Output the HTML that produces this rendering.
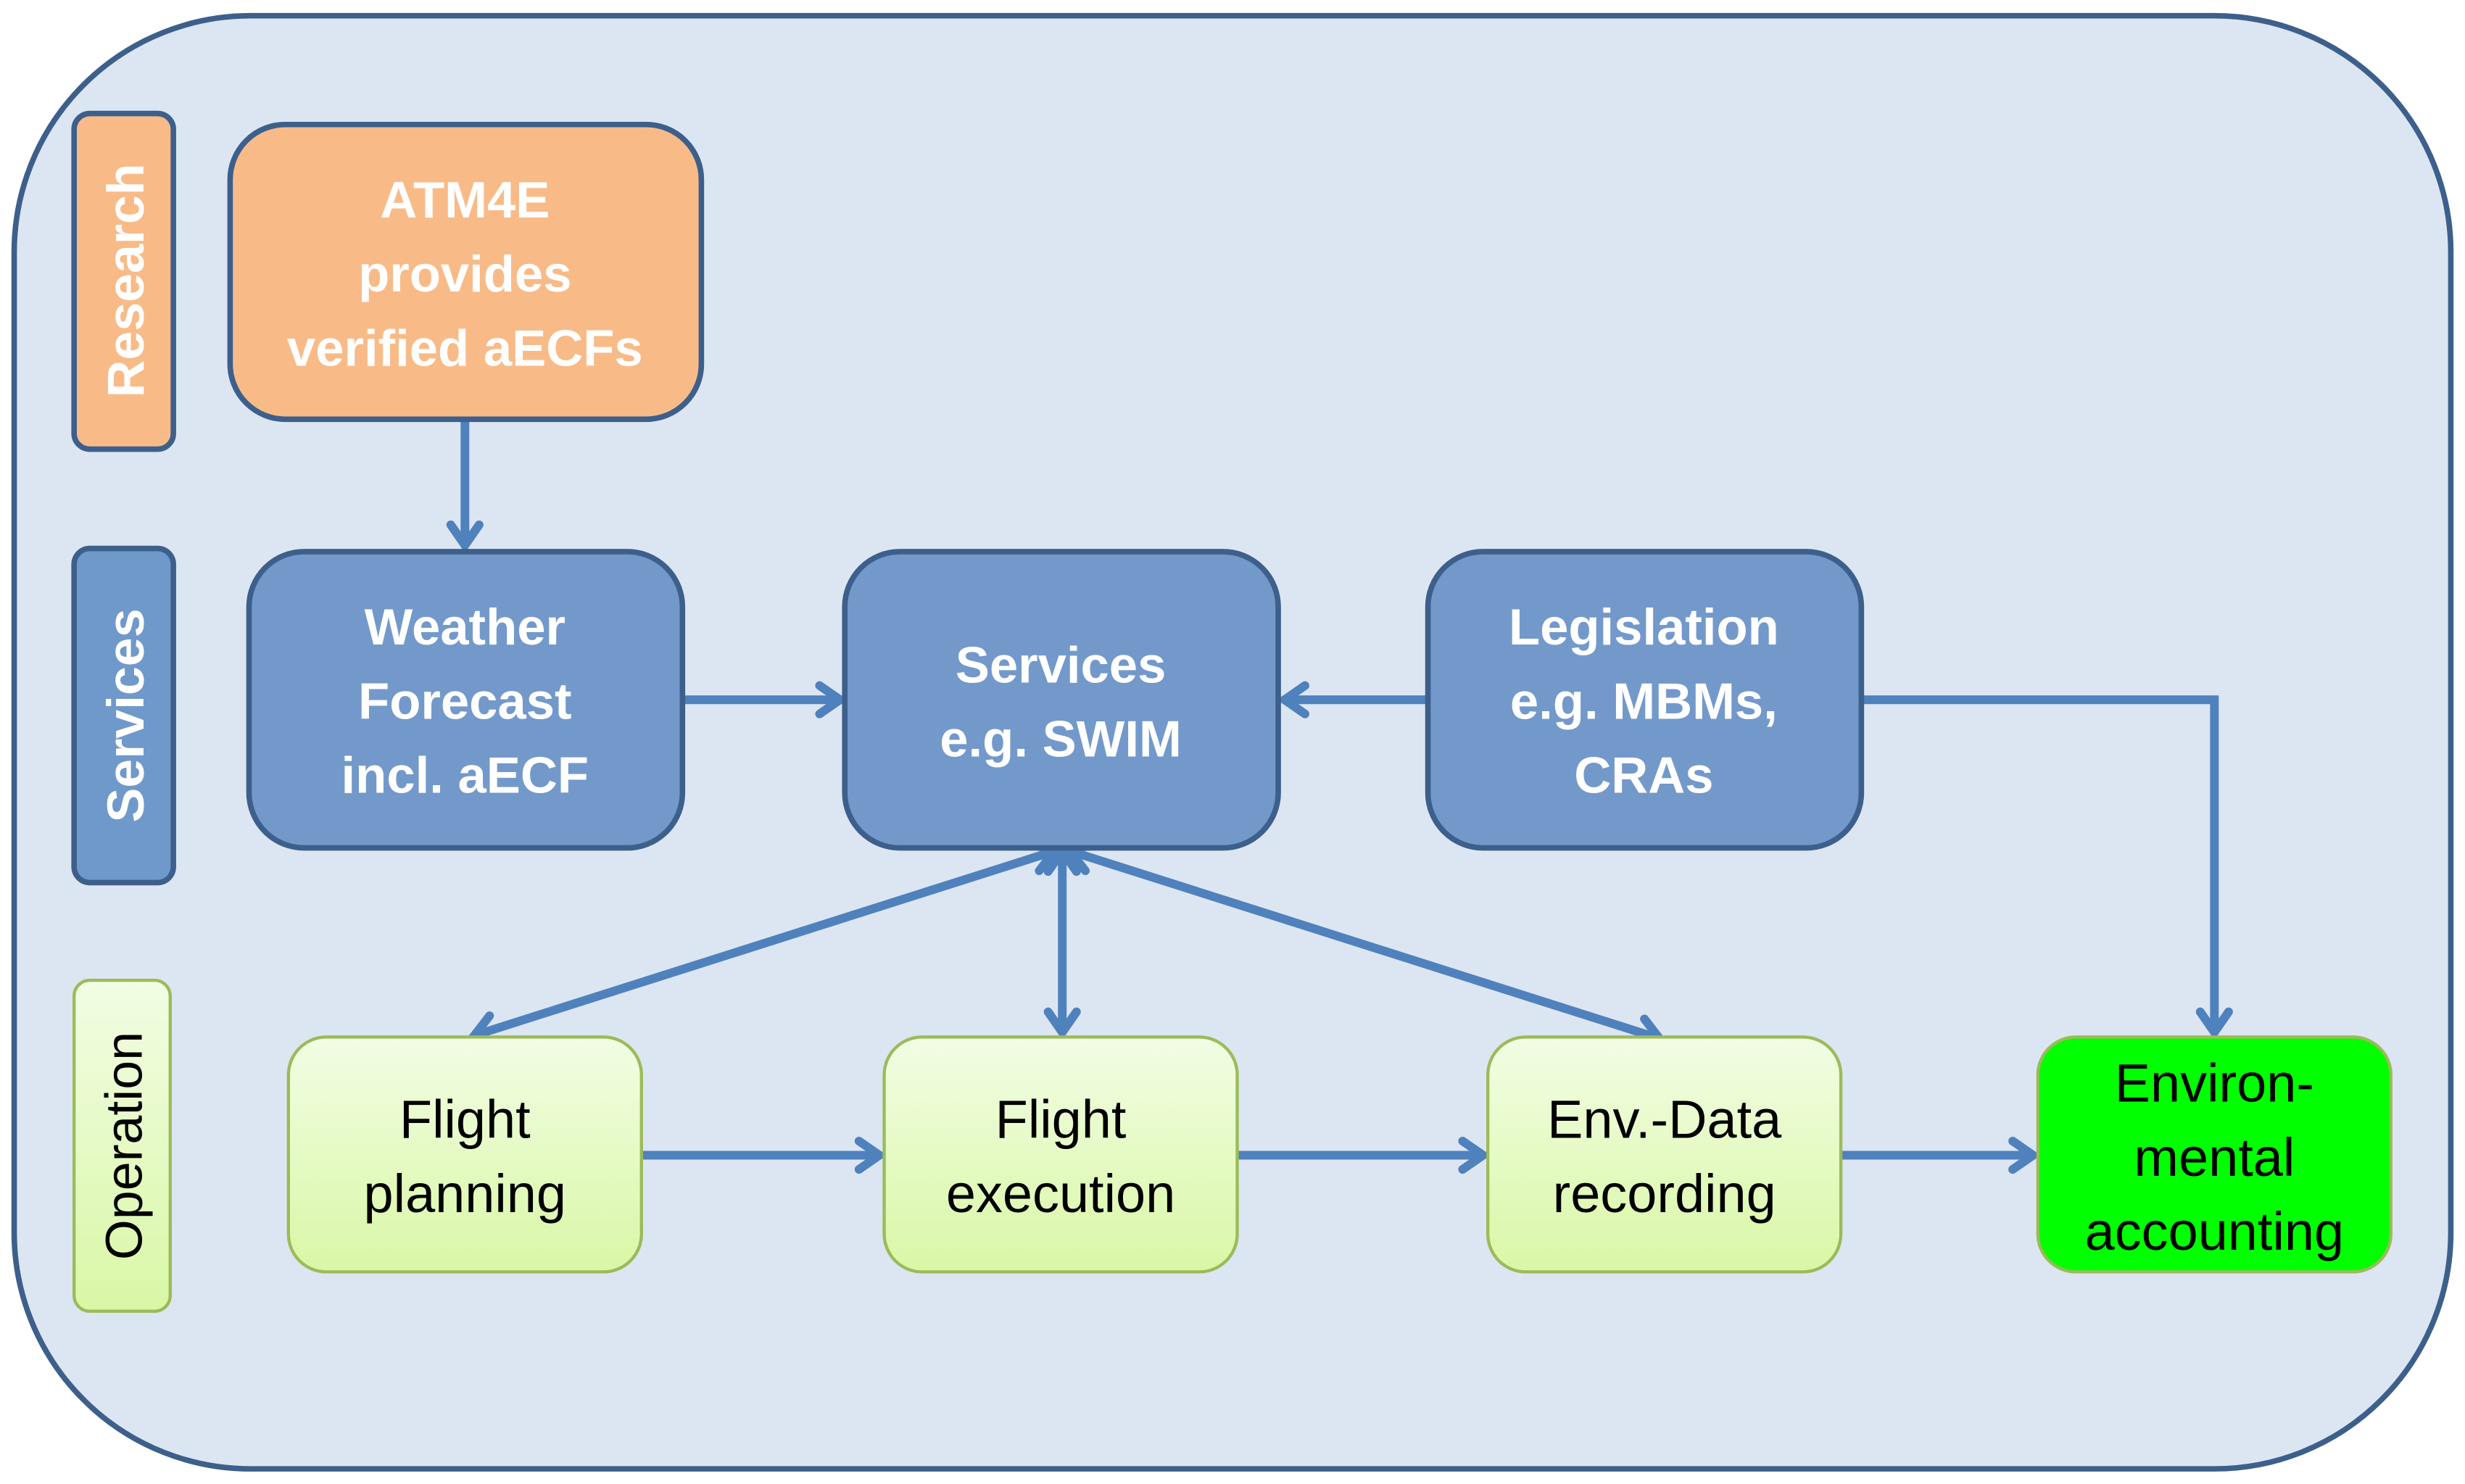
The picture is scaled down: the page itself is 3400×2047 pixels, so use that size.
<!DOCTYPE html>
<html><head><meta charset="utf-8"><style>
html,body{margin:0;padding:0;background:#fff}
svg{display:block}
</style></head><body>
<svg width="3400" height="2047" viewBox="0 0 1564 941.6" preserveAspectRatio="none" xmlns="http://www.w3.org/2000/svg">
<defs>
<linearGradient id="g" x1="0" y1="0" x2="0" y2="1">
<stop offset="0" stop-color="#f2fde4"/><stop offset="1" stop-color="#d9f7a6"/>
</linearGradient>
<marker id="a" viewBox="-16 -12 20 24" markerWidth="20" markerHeight="24" refX="0" refY="0" markerUnits="userSpaceOnUse" orient="auto-start-reverse">
<path d="M-13,-9 L0,0 L-13,9" fill="none" stroke="#4f81bd" stroke-width="5.5" stroke-linecap="round" stroke-linejoin="miter"/>
</marker>
</defs>
<rect x="9" y="10" width="1546" height="922" rx="150" ry="150" fill="#dce6f2" stroke="#3d5f8b" stroke-width="3.5"/>

<rect x="47" y="72" width="63" height="213" rx="10" fill="#f8bb88" stroke="#3d5f8b" stroke-width="3.5"/>
<rect x="47" y="348" width="63" height="212" rx="10" fill="#7099cb" stroke="#3d5f8b" stroke-width="3.5"/>
<rect x="47" y="622" width="61" height="210" rx="10" fill="url(#g)" stroke="#9bbb59" stroke-width="2"/>
<g font-family="Liberation Sans, sans-serif" font-size="33" text-anchor="middle">
<text transform="translate(91,178) rotate(-90)" fill="#fff" font-weight="bold">Research</text>
<text transform="translate(91,454) rotate(-90)" fill="#fff" font-weight="bold">Services</text>
<text transform="translate(90,727) rotate(-90)" fill="#000">Operation</text>
</g>

<g stroke="#4f81bd" stroke-width="5.5" fill="none">
<line x1="295" y1="266" x2="295" y2="346" marker-end="url(#a)"/>
<line x1="433" y1="444" x2="533" y2="444" marker-end="url(#a)"/>
<line x1="906" y1="444" x2="815" y2="444" marker-end="url(#a)"/>
<polyline points="1181,444 1405,444 1405,655" marker-end="url(#a)"/>
<line x1="669" y1="540" x2="301" y2="657" marker-start="url(#a)" marker-end="url(#a)"/>
<line x1="674" y1="540" x2="674" y2="655" marker-start="url(#a)" marker-end="url(#a)"/>
<line x1="679" y1="540" x2="1053" y2="659" marker-start="url(#a)" marker-end="url(#a)"/>
<line x1="407" y1="733" x2="558" y2="733" marker-end="url(#a)"/>
<line x1="785" y1="733" x2="941" y2="733" marker-end="url(#a)"/>
<line x1="1168" y1="733" x2="1290" y2="733" marker-end="url(#a)"/>
</g>

<rect x="146" y="79" width="299" height="187" rx="35" fill="#f8bb88" stroke="#3d5f8b" stroke-width="3.5"/>
<rect x="158" y="350" width="275" height="188" rx="35" fill="#7399cb" stroke="#3d5f8b" stroke-width="3.5"/>
<rect x="536" y="350" width="275" height="188" rx="35" fill="#7399cb" stroke="#3d5f8b" stroke-width="3.5"/>
<rect x="906" y="350" width="275" height="188" rx="35" fill="#7399cb" stroke="#3d5f8b" stroke-width="3.5"/>
<rect x="183" y="658" width="224" height="149" rx="24" fill="url(#g)" stroke="#9bbb59" stroke-width="2"/>
<rect x="561" y="658" width="224" height="149" rx="24" fill="url(#g)" stroke="#9bbb59" stroke-width="2"/>
<rect x="944" y="658" width="224" height="149" rx="24" fill="url(#g)" stroke="#9bbb59" stroke-width="2"/>
<rect x="1293" y="658" width="224" height="149" rx="24" fill="#00ff00" stroke="#9bbb59" stroke-width="2"/>

<g font-family="Liberation Sans, sans-serif" font-size="32.5" font-weight="bold" fill="#fff" text-anchor="middle">
<text x="295" y="138">ATM4E</text>
<text x="295" y="185">provides</text>
<text x="295" y="232">verified aECFs</text>
<text x="295" y="409">Weather</text>
<text x="295" y="456">Forecast</text>
<text x="295" y="503">incl. aECF</text>
<text x="673" y="433">Services</text>
<text x="673" y="480">e.g. SWIM</text>
<text x="1043" y="409">Legislation</text>
<text x="1043" y="456">e.g. MBMs,</text>
<text x="1043" y="503">CRAs</text>
</g>
<g font-family="Liberation Sans, sans-serif" font-size="34" fill="#000" text-anchor="middle">
<text x="295" y="722">Flight</text>
<text x="295" y="769">planning</text>
<text x="673" y="722">Flight</text>
<text x="673" y="769">execution</text>
<text x="1056" y="722">Env.-Data</text>
<text x="1056" y="769">recording</text>
<text x="1405" y="699">Environ-</text>
<text x="1405" y="746">mental</text>
<text x="1405" y="793">accounting</text>
</g>
</svg>
</body></html>
